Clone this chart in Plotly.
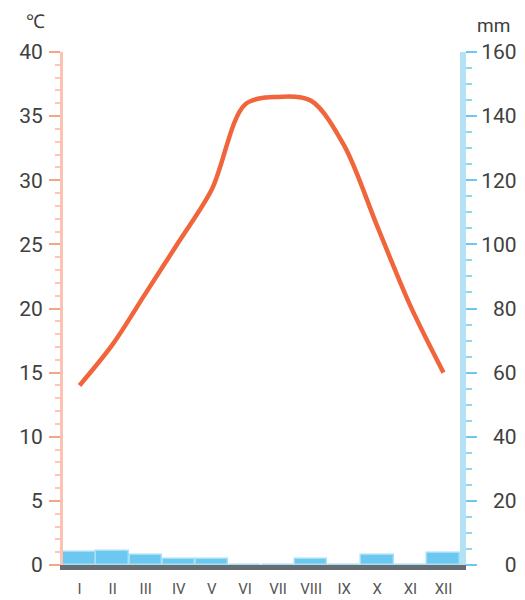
import plotly.graph_objects as go

months = ["I", "II", "III", "IV", "V", "VI", "VII", "VIII", "IX", "X", "XI", "XII"]
temperature = [14.0, 17.2, 21.2, 25.2, 29.3, 35.9, 36.5, 36.2, 32.7, 26.4, 20.2, 15.0]
precipitation = [4.0, 4.4, 3.1, 1.9, 1.9, 0.0, 0.0, 1.8, 0.0, 3.0, 0.0, 3.7]

left_ticks = [0, 5, 10, 15, 20, 25, 30, 35, 40]
right_ticks = [0, 20, 40, 60, 80, 100, 120, 140, 160]
# right labels are right-aligned: pad with figure spaces to equal width
right_labels = [str(v).rjust(3, "\u2007") for v in right_ticks]

# the page body has an 8px margin, so the figure is drawn 8px in and down
OFF = 8
W, H = 525 - OFF, 600 - OFF
pl, pr, pt, pb = 63 - OFF, 65, 52 - OFF, 35
pw, ph = W - pl - pr, H - pt - pb

fig = go.Figure()
fig.add_trace(go.Bar(
    x=months, y=precipitation, yaxis="y2",
    marker=dict(color="#6cc8f0", line=dict(color="#a6def6", width=1.5)),
    width=0.98, showlegend=False,
))
fig.add_trace(go.Scatter(
    x=months, y=temperature, mode="lines",
    line=dict(color="#f0653c", width=4.5, shape="spline", smoothing=0.9),
    showlegend=False,
))

font_tick = dict(family="Roboto", size=21, color="#404040")

fig.update_layout(
    width=W, height=H,
    margin=dict(l=pl, r=pr, t=pt, b=pb, autoexpand=False),
    paper_bgcolor="white", plot_bgcolor="white",
    bargap=0,
    xaxis=dict(
        type="category", range=[-0.5, 11.5], automargin=False,
        showline=True, linecolor="#676d70", linewidth=5,
        showgrid=False, ticks="",
        tickfont=dict(family="Roboto", size=15, color="#555555"),
        ticklabelstandoff=6,
    ),
    yaxis=dict(
        range=[0, 40], tickvals=left_ticks, showgrid=False, zeroline=False,
        automargin=False,
        showline=True, linecolor="#fbc3b0", linewidth=3,
        ticks="outside", ticklen=11, tickwidth=2, tickcolor="#f6a58a",
        minor=dict(dtick=1, ticks="outside", ticklen=5, tickwidth=2, tickcolor="#fbc8b8"),
        tickfont=font_tick, ticklabelstandoff=2,
    ),
    yaxis2=dict(
        range=[0, 160], tickvals=right_ticks, ticktext=right_labels,
        overlaying="y", side="right",
        showgrid=False, zeroline=False, automargin=False,
        showline=True, linecolor="#b2e2f4", linewidth=6,
        ticks="outside", ticklen=11, tickwidth=2, tickcolor="#6ccaf0",
        minor=dict(dtick=5, ticks="outside", ticklen=6, tickwidth=2, tickcolor="#8fd6f2"),
        tickfont=font_tick, ticklabelstandoff=0,
    ),
)

for text, (px, py), anchor in [("℃", (24, 21), "left"), ("mm", (475, 26), "left")]:
    fig.add_annotation(
        text=text, x=(px - OFF - pl) / pw, y=(H - pb - (py - OFF)) / ph,
        xref="paper", yref="paper", showarrow=False,
        xanchor=anchor, yanchor="middle",
        font=dict(family="Roboto", size=19, color="#404040"),
    )

fig.write_html("out.html")
